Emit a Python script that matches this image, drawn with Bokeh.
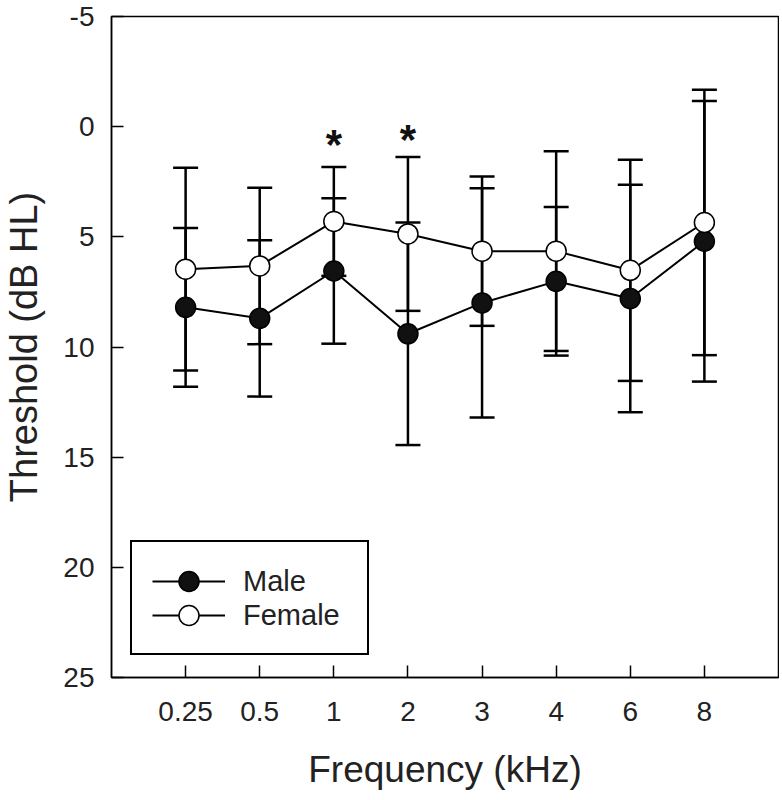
from bokeh.plotting import figure
from bokeh.models import (ColumnDataSource, Range1d, FixedTicker, Whisker, TeeHead,
                          Legend, LegendItem)
from bokeh.core.properties import value
from bokeh.embed import file_html
from bokeh.resources import INLINE

freq_labels = ["0.25", "0.5", "1", "2", "3", "4", "6", "8"]
positions = [1, 2, 3, 4, 5, 6, 7, 8]

male_mean = [8.2, 8.7, 6.55, 9.4, 8.0, 7.02, 7.8, 5.2]
male_sd = [3.6, 3.55, 3.3, 5.05, 5.2, 3.37, 5.16, 6.37]
female_mean = [6.47, 6.32, 4.3, 4.87, 5.65, 5.65, 6.52, 4.35]
female_sd = [4.6, 3.55, 2.47, 3.49, 3.39, 4.53, 5.02, 6.02]

star_pos = [3, 4]
star_y = [0.8, 0.6]

y_ticks = [-5, 0, 5, 10, 15, 20, 25]
y_labels = ["-5", "0", "5", "10", "15", "20", "25"]

FONT = "Liberation Sans"

def make_src(mean, sd):
    return ColumnDataSource(dict(
        x=positions, y=mean,
        upper=[m - s for m, s in zip(mean, sd)],
        lower=[m + s for m, s in zip(mean, sd)],
    ))

msrc = make_src(male_mean, male_sd)
fsrc = make_src(female_mean, female_sd)

p = figure(width=779, height=792, output_backend="svg", toolbar_location=None,
           x_range=Range1d(0, 9), y_range=Range1d(25, -5),
           min_border_left=109, min_border_right=1, min_border_top=16,
           min_border_bottom=109)
p.xgrid.visible = False
p.ygrid.visible = False
p.outline_line_color = "black"
p.outline_line_width = 1.5
p.outline_line_alpha = 1
p.background_fill_color = "white"
p.border_fill_color = "white"

for src in (msrc, fsrc):
    w = Whisker(base="x", upper="upper", lower="lower", source=src,
                line_color="black", line_width=2.5,
                upper_head=TeeHead(size=25, line_width=2.5, line_color="black"),
                lower_head=TeeHead(size=25, line_width=2.5, line_color="black"),
                level="underlay")
    p.add_layout(w)

ml = p.line("x", "y", source=msrc, line_color="black", line_width=2)
fl = p.line("x", "y", source=fsrc, line_color="black", line_width=2)
mc = p.scatter("x", "y", source=msrc, size=20, fill_color="#111111",
               line_color="black", line_width=1.5)
fc = p.scatter("x", "y", source=fsrc, size=20, fill_color="white",
               line_color="black", line_width=1.5)

p.text(x=star_pos, y=star_y, text=["*", "*"], text_font=value(FONT),
       text_font_size="42px", text_font_style="bold", text_align="center",
       text_baseline="alphabetic", text_color="#111111")

# axes
for ax in (p.xaxis[0], p.yaxis[0]):
    ax.axis_line_width = 1.5
    ax.axis_line_color = "black"
    ax.major_tick_in = 12
    ax.major_tick_out = 0
    ax.major_tick_line_width = 1.5
    ax.major_tick_line_color = "black"
    ax.minor_tick_line_color = None
    ax.major_label_text_font = FONT
    ax.major_label_text_font_size = "28px"
    ax.major_label_text_color = "#222222"
    ax.axis_label_text_font = FONT
    ax.axis_label_text_font_style = "normal"
    ax.axis_label_text_color = "#222222"

p.xaxis.ticker = FixedTicker(ticks=positions)
p.xaxis.major_label_overrides = {pos: lab for pos, lab in zip(positions, freq_labels)}
p.xaxis.axis_label = "Frequency (kHz)"
p.xaxis.axis_label_text_font_size = "37px"
p.xaxis.major_label_standoff = 24
p.xaxis.axis_label_standoff = 25

p.yaxis.ticker = FixedTicker(ticks=y_ticks)
p.yaxis.major_label_overrides = {t: lab for t, lab in zip(y_ticks, y_labels)}
p.yaxis.axis_label = "Threshold (dB HL)"
p.yaxis.axis_label_text_font_size = "38px"
p.yaxis.major_label_standoff = 17
p.yaxis.axis_label_standoff = 15

# legend frame (an empty, invisible entry that only provides the box)
dummy = p.line(x=[], y=[], line_alpha=0)
box = Legend(items=[LegendItem(label=" ", renderers=[dummy])], location=(19, 22))
box.label_text_font_size = "1px"
box.glyph_width = 235
box.glyph_height = 111
box.label_standoff = 0
box.label_width = 0
box.padding = 0
box.margin = 0
box.spacing = 0
box.border_line_color = "black"
box.border_line_width = 2
box.border_line_alpha = 1
box.background_fill_color = "white"
box.background_fill_alpha = 1
p.add_layout(box, "center")

def entry(label, rends, y_off):
    lg = Legend(items=[LegendItem(label=label, renderers=rends)], location=(41, y_off))
    lg.label_text_font = FONT
    lg.label_text_font_size = "29px"
    lg.label_text_color = "#222222"
    lg.glyph_width = 73
    lg.glyph_height = 50
    lg.label_standoff = 18
    lg.label_width = 0
    lg.padding = 0
    lg.margin = 0
    lg.spacing = 0
    lg.border_line_color = None
    lg.background_fill_alpha = 0
    p.add_layout(lg, "center")

entry("Male", [ml, mc], 71)
entry("Female", [fl, fc], 37)

open("out.html", "w").write(file_html(p, INLINE))
